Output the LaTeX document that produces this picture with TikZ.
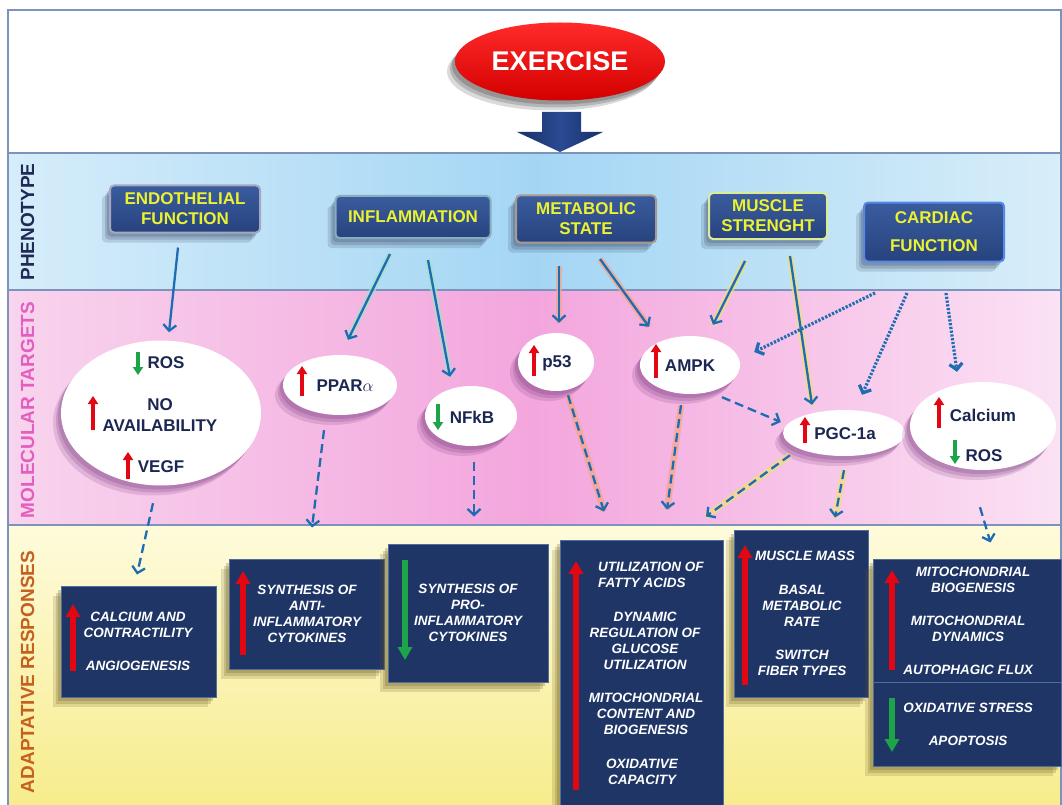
\documentclass[tikz,border=0pt]{standalone}
\usepackage{fontspec}
\setmainfont{Liberation Sans}
\usetikzlibrary{shapes.geometric,arrows.meta,shadows,calc}
\definecolor{phentop}{HTML}{3A5C9E}
\definecolor{phenbot}{HTML}{27437E}
\definecolor{phentext}{HTML}{ECF232}
\definecolor{adapfill}{HTML}{1F3566}
\definecolor{adapline}{HTML}{4F6E9E}
\definecolor{molText}{HTML}{1B2752}
\definecolor{linkblue}{HTML}{1F6CB2}
\definecolor{upred}{HTML}{E30613}
\definecolor{downgreen}{HTML}{1EA448}
\definecolor{glowsalmon}{HTML}{F5A587}
\definecolor{glowyellow}{HTML}{F0E07A}
\definecolor{glowgreen}{HTML}{A6E0CC}
\definecolor{bandline}{HTML}{7D93BC}
\definecolor{labnavy}{HTML}{1F2A57}
\definecolor{labpink}{HTML}{E35FBF}
\definecolor{laborange}{HTML}{C5601F}
\definecolor{endoGlow}{HTML}{A4A8C4}
\definecolor{inflGlow}{HTML}{86AEBE}
\definecolor{metGlow}{HTML}{A89A8E}
\definecolor{musGlow}{HTML}{DCEB96}
\definecolor{cardGlow}{HTML}{5A88E6}
\definecolor{blueL}{HTML}{D6EDFA}
\definecolor{blueM}{HTML}{A4D6F4}
\definecolor{blueR}{HTML}{D8EEF9}
\definecolor{pinkL}{HTML}{F8D4EE}
\definecolor{pinkM}{HTML}{F3A6DD}
\definecolor{pinkR}{HTML}{FBE2F4}
\definecolor{yelT}{HTML}{FEFBDC}
\definecolor{yelB}{HTML}{F7EC8C}
\definecolor{exTop}{HTML}{FF2A2A}
\definecolor{exBot}{HTML}{D40000}
\definecolor{arrNavyA}{HTML}{2A4A92}
\definecolor{arrNavyB}{HTML}{16306A}
\definecolor{shPhen}{HTML}{3A4A6A}
\definecolor{shMol}{HTML}{7A3A80}
\definecolor{shAdap}{HTML}{6A5A20}
\begin{document}
\begin{tikzpicture}[x=1pt,y=-1pt,
  softshadow/.style={
     general shadow={shadow xshift=-8pt, shadow yshift=-10pt, fill=#1, opacity=0.18},
     general shadow={shadow xshift=-5pt, shadow yshift=-7pt, fill=#1, opacity=0.22},
     general shadow={shadow xshift=-3pt, shadow yshift=-4pt, fill=#1, opacity=0.25}},
  phenbox/.style={rectangle, rounded corners=4pt, draw=#1, line width=2pt,
     top color=phentop, bottom color=phenbot, text=phentext,
     font=\bfseries\fontsize{17}{20}\selectfont, align=center, inner sep=0pt,
     softshadow=shPhen},
  molell/.style={ellipse, fill=white, draw=none, inner sep=0pt, softshadow=shMol},
  moltxt/.style={text=molText, font=\bfseries\fontsize{17}{21}\selectfont, inner sep=0pt, align=center},
  adapbox/.style={rectangle, fill=adapfill, draw=adapline, line width=1pt, inner sep=0pt,
     softshadow=shAdap},
  adaptxt/.style={text=white, font=\bfseries\itshape\fontsize{13.5}{16}\selectfont, inner sep=0pt, align=center},
  conn/.style={draw=linkblue, line width=2.3pt, -{Straight Barb[length=6pt,width=13pt]}},
  dconn/.style={conn, dash pattern=on 9pt off 5pt},
  pconn/.style={conn, line width=3.2pt, dash pattern=on 2.2pt off 1.6pt},
  glow/.style={preaction={draw=#1, line width=6.5pt, solid, -, opacity=0.7}},
  uparr/.style={draw=upred, line width=3.6pt, -{Triangle[length=8pt,width=10pt]}},
  dnarr/.style={draw=downgreen, line width=3.6pt, -{Triangle[length=8pt,width=10pt]}},
  bigup/.style={draw=upred, line width=5.5pt, -{Triangle[length=13pt,width=14pt]}},
  bigdn/.style={draw=downgreen, line width=5.5pt, -{Triangle[length=13pt,width=14pt]}},
  lab/.style={rotate=90, font=\bfseries\fontsize{19}{19}\selectfont, inner sep=0pt}
]
\useasboundingbox (0,0) rectangle (1062,805);
\clip (0,0) rectangle (1062,805);
\fill[white] (0,0) rectangle (1062,805);

% bands
\shade[left color=blueL, right color=blueR, middle color=blueM] (8,153) rectangle (1062,290);
\shade[left color=pinkL, right color=pinkR, middle color=pinkM] (8,290) rectangle (1062,525);
\shade[top color=yelT, bottom color=yelB] (8,525) rectangle (1062,806);
\draw[bandline, line width=1.2pt] (8,10) rectangle (1061,806);
\draw[bandline, line width=1.5pt] (8,153) -- (1062,153);
\draw[bandline, line width=1.5pt] (8,290) -- (1062,290);
\draw[bandline, line width=1.5pt] (8,525) -- (1062,525);

% band labels
\node[lab, text=labnavy] (labP) at (27.5,222) {PHENOTYPE};
\node[lab, text=labpink] (labM) at (27.5,410) {MOLECULAR TARGETS};
\node[lab, text=laborange] (labA) at (27.5,672) {ADAPTATIVE RESPONSES};

% exercise
\node[ellipse, top color=exTop, bottom color=exBot, minimum width=210pt, minimum height=78pt,
      text=white, font=\bfseries\fontsize{27}{27}\selectfont, inner sep=0pt,
      softshadow=black!80] (ex) at (560,61.5) {EXERCISE};
\shade[left color=arrNavyB, right color=arrNavyB, middle color=arrNavyA]
  (542,112) -- (581,112) -- (581,132) -- (603,132) -- (560,152) -- (517,132) -- (542,132) -- cycle;

% phenotype boxes
\node[phenbox=endoGlow, minimum width=150pt, minimum height=47pt] (endo) at (185,209) {ENDOTHELIAL\\FUNCTION};
\node[phenbox=inflGlow, minimum width=155pt, minimum height=42pt] (infl) at (413,217) {INFLAMMATION};
\node[phenbox=metGlow, minimum width=140pt, minimum height=47pt] (metab) at (586,219) {METABOLIC\\STATE};
\node[phenbox=musGlow, minimum width=118pt, minimum height=46pt] (musc) at (768,216) {MUSCLE\\STRENGHT};
\node[phenbox=cardGlow, minimum width=140pt, minimum height=59pt, font=\bfseries\fontsize{17}{28}\selectfont] (card) at (934,232) {CARDIAC\\FUNCTION};

% molecular ellipses
\node[molell, minimum width=200pt, minimum height=145pt] (bigE) at (161,413) {};
\node[molell, minimum width=114pt, minimum height=60pt] (ppar) at (340,385) {};
\node[molell, minimum width=92pt, minimum height=60pt] (nfkb) at (471,416) {};
\node[molell, minimum width=76pt, minimum height=58pt] (p53) at (556,362) {};
\node[molell, minimum width=100pt, minimum height=58pt] (ampk) at (690,365) {};
\node[molell, minimum width=122pt, minimum height=46pt] (pgc) at (844,433) {};
\node[molell, minimum width=146pt, minimum height=88pt] (calc) at (983,426) {};

\node[moltxt] (tRosA) at (166,363) {ROS};
\node[moltxt] (tNo) at (160,415) {NO\\AVAILABILITY};
\node[moltxt] (tVegf) at (161,467) {VEGF};
\node[moltxt] (tPpar) at (345,386) {PPAR\(\alpha\)};
\node[moltxt] (tNfkb) at (472,417) {NFkB};
\node[moltxt] (tPf) at (557,363) {p53};
\node[moltxt] (tAmpk) at (690,366) {AMPK};
\node[moltxt] (tPgc) at (845,434) {PGC-1a};
\node[moltxt] (tCalc) at (983,415) {Calcium};
\node[moltxt] (tRosB) at (984,456) {ROS};

\draw[dnarr] (138,352) -- (138,375);
\draw[uparr] (93,430) -- (93,396);
\draw[uparr] (128,479) -- (128,452);
\draw[uparr] (302,396) -- (302,366);
\draw[dnarr] (438,404) -- (438,430);
\draw[uparr] (534,376) -- (534,345);
\draw[uparr] (656,378) -- (656,344);
\draw[uparr] (805,443) -- (805,417);
\draw[uparr] (939,428) -- (939,397);
\draw[dnarr] (955,440) -- (955,464);

% adaptive boxes
\node[adapbox, minimum width=155pt, minimum height=111pt] (boxA) at (138.5,641.5) {};
\node[adapbox, minimum width=155pt, minimum height=110pt] (boxB) at (306.5,614) {};
\node[adapbox, minimum width=160pt, minimum height=138pt] (boxC) at (468,613) {};
\node[adapbox, minimum width=163pt, minimum height=280pt] (boxD) at (641.5,680) {};
\node[adapbox, minimum width=134pt, minimum height=167pt] (boxE) at (801,613.5) {};
\node[adapbox, minimum width=188pt, minimum height=123pt] (boxF) at (967,620.5) {};
\node[adapbox, minimum width=188pt, minimum height=84pt] (boxG) at (967,724) {};

\node[adaptxt] (tA1) at (138,625) {CALCIUM AND\\CONTRACTILITY};
\node[adaptxt] (tA2) at (138,666) {ANGIOGENESIS};
\node[adaptxt] (tB) at (307,614) {SYNTHESIS OF\\ANTI-\\INFLAMMATORY\\CYTOKINES};
\node[adaptxt] (tC) at (468,613) {SYNTHESIS OF\\PRO-\\INFLAMMATORY\\CYTOKINES};
\node[adaptxt, anchor=west, align=left] (tD1) at (598,575) {UTILIZATION OF\\FATTY ACIDS};
\node[adaptxt] (tD2) at (645,641) {DYNAMIC\\REGULATION OF\\GLUCOSE\\UTILIZATION};
\node[adaptxt] (tD3) at (646,714) {MITOCHONDRIAL\\CONTENT AND\\BIOGENESIS};
\node[adaptxt] (tD4) at (642,772) {OXIDATIVE\\CAPACITY};
\node[adaptxt] (tE1) at (805,556) {MUSCLE MASS};
\node[adaptxt] (tE2) at (802,606) {BASAL\\METABOLIC\\RATE};
\node[adaptxt] (tE3) at (802,663) {SWITCH\\FIBER TYPES};
\node[adaptxt] (tF1) at (973,580) {MITOCHONDRIAL\\BIOGENESIS};
\node[adaptxt] (tF2) at (968,628.5) {MITOCHONDRIAL\\DYNAMICS};
\node[adaptxt] (tF3) at (968,670) {AUTOPHAGIC FLUX};
\node[adaptxt] (tG1) at (968,708) {OXIDATIVE STRESS};
\node[adaptxt] (tG2) at (968,741) {APOPTOSIS};

\draw[bigup] (73,671) -- (73,604);
\draw[bigup] (243,655) -- (243,571);
\draw[bigdn] (405,560) -- (405,660);
\draw[bigup] (576,790) -- (576,561);
\draw[bigup] (745,685) -- (745,545);
\draw[bigup] (892,670) -- (892,570);
\draw[bigdn] (892,698) -- (892,752);

% phenotype -> molecular
\draw[conn] ($(endo.south)+(-7,14)$) -- ($(bigE.north)+(8,-8)$);
\draw[conn, glow=glowgreen] ($(infl.south)+(-23,15)$) -- ($(ppar.north)+(8,-15)$);
\draw[conn, glow=glowgreen] ($(infl.south)+(15,21)$) -- ($(nfkb.north)+(-21,-9)$);
\draw[conn, glow=glowsalmon] ($(metab.south)+(-27,22.5)$) -- ($(p53.north)+(3,-10)$);
\draw[conn, glow=glowsalmon] ($(metab.south)+(14,15.5)$) -- ($(ampk.north)+(-41,-9)$);
\draw[conn, glow=glowyellow] ($(musc.south)+(-23,21)$) -- ($(ampk.north)+(23,-11)$);
\draw[conn, glow=glowyellow] ($(musc.south)+(22,16)$) -- ($(pgc.north)+(-32,-5)$);
\draw[pconn] ($(card.south)+(-59,30.5)$) -- ($(ampk.east)+(14,-13)$);
\draw[pconn] ($(card.south)+(-27,30.5)$) -- ($(pgc.north)+(18,-15)$);
\draw[pconn] ($(card.south)+(12,30.5)$) -- ($(calc.north)+(-26,-10)$);

% molecular -> adaptive
\draw[dconn] ($(bigE.south)+(-8,17.5)$) -- ($(boxA.north)+(-1.5,-11)$);
\draw[dconn] ($(ppar.south)+(-16,15)$) -- ($(boxB.north)+(5.5,-31)$);
\draw[dconn] ($(nfkb.south)+(3,16)$) -- ($(boxC.north)+(6,-27)$);
\draw[dconn, glow=glowsalmon] ($(p53.south)+(12,4)$) -- ($(boxD.north)+(-37.5,-28)$);
\draw[dconn, glow=glowsalmon] ($(ampk.south)+(-9,11)$) -- ($(boxD.north)+(25.5,-30)$);
\draw[dconn] ($(ampk.south)+(32,3)$) -- ($(pgc.west)+(-2,-11)$);
\draw[dconn, glow=glowyellow] ($(pgc.south)+(-54,-1)$) -- ($(boxD.north)+(64.5,-23)$);
\draw[dconn, glow=glowyellow] ($(pgc.south)+(0,14)$) -- ($(boxE.north)+(34,-12)$);
\draw[dconn] ($(calc.south)+(-3,37)$) -- ($(boxF.north)+(23.5,-16)$);
\end{tikzpicture}
\end{document}
